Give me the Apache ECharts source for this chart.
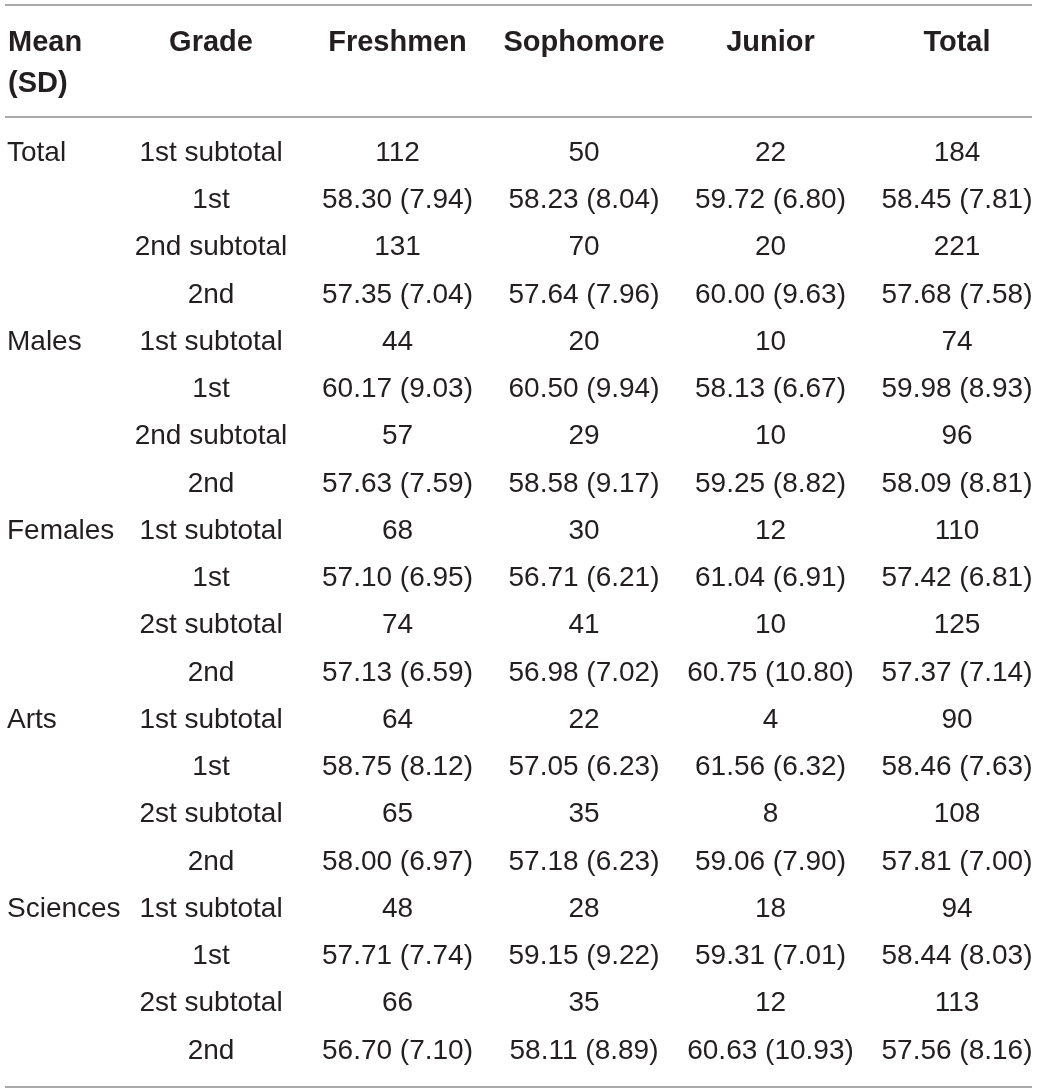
<!DOCTYPE html>
<html>
<head>
<meta charset="utf-8">
<script src="https://cdn.jsdelivr.net/npm/echarts@6/dist/echarts.min.js"></script>
<style>
  html, body { margin: 0; padding: 0; background: #fff; }
  #table { width: 1040px; height: 1092px; }
</style>
</head>
<body>
<div id="table"></div>
<script>
// 表头与行标签
const columns = ['Grade', 'Freshmen', 'Sophomore', 'Junior', 'Total'];
const rowGroups = ['Total', '', '', '', 'Males', '', '', '', 'Females', '', '', '',
  'Arts', '', '', '', 'Sciences', '', '', ''];
const grades = [
  '1st subtotal', '1st', '2nd subtotal', '2nd',
  '1st subtotal', '1st', '2nd subtotal', '2nd',
  '1st subtotal', '1st', '2st subtotal', '2nd',
  '1st subtotal', '1st', '2st subtotal', '2nd',
  '1st subtotal', '1st', '2st subtotal', '2nd'
];

// 每列：人数，[均值, 标准差] 交替
const freshmen = [112, [58.30, 7.94], 131, [57.35, 7.04], 44, [60.17, 9.03], 57, [57.63, 7.59],
  68, [57.10, 6.95], 74, [57.13, 6.59], 64, [58.75, 8.12], 65, [58.00, 6.97],
  48, [57.71, 7.74], 66, [56.70, 7.10]];
const sophomore = [50, [58.23, 8.04], 70, [57.64, 7.96], 20, [60.50, 9.94], 29, [58.58, 9.17],
  30, [56.71, 6.21], 41, [56.98, 7.02], 22, [57.05, 6.23], 35, [57.18, 6.23],
  28, [59.15, 9.22], 35, [58.11, 8.89]];
const junior = [22, [59.72, 6.80], 20, [60.00, 9.63], 10, [58.13, 6.67], 10, [59.25, 8.82],
  12, [61.04, 6.91], 10, [60.75, 10.80], 4, [61.56, 6.32], 8, [59.06, 7.90],
  18, [59.31, 7.01], 12, [60.63, 10.93]];
const total = [184, [58.45, 7.81], 221, [57.68, 7.58], 74, [59.98, 8.93], 96, [58.09, 8.81],
  110, [57.42, 6.81], 125, [57.37, 7.14], 90, [58.46, 7.63], 108, [57.81, 7.00],
  94, [58.44, 8.03], 113, [57.56, 8.16]];

const FONT = 'Liberation Sans';
const INK = '#231f20';
const RULE = '#8c8c8c';
const BODY_SIZE = 28;
const HEAD_SIZE = 29;

function fmt(v) {
  if (Array.isArray(v)) return v[0].toFixed(2) + ' (' + v[1].toFixed(2) + ')';
  return String(v);
}

const cells = [];
[grades, freshmen, sophomore, junior, total].forEach((col, c) => {
  col.forEach((v, r) => cells.push([c, r, fmt(v)]));
});

const chart = echarts.init(document.getElementById('table'));
chart.setOption({
  animation: false,
  backgroundColor: '#fff',
  title: {
    text: 'Mean\n(SD)',
    left: 8,
    top: 22,
    padding: 0,
    textStyle: { fontFamily: FONT, fontSize: HEAD_SIZE, fontWeight: 'bold', color: INK, lineHeight: 41 }
  },
  grid: { left: 211, right: 83, top: 153, bottom: 41 },
  xAxis: {
    type: 'category',
    position: 'top',
    data: columns,
    boundaryGap: false,
    axisLine: { show: false },
    axisTick: { show: false },
    splitLine: { show: false },
    axisLabel: {
      interval: 0,
      margin: 110,
      verticalAlign: 'middle',
      fontFamily: FONT,
      fontSize: HEAD_SIZE,
      fontWeight: 'bold',
      color: INK
    }
  },
  yAxis: {
    type: 'category',
    data: rowGroups.map((g, i) => 'r' + i),
    inverse: true,
    boundaryGap: false,
    axisLine: { show: false },
    axisTick: { show: false },
    splitLine: { show: false },
    axisLabel: {
      interval: 0,
      align: 'left',
      margin: 204,
      fontFamily: FONT,
      fontSize: BODY_SIZE,
      color: INK,
      formatter: (v, i) => rowGroups[i]
    }
  },
  series: [{
    type: 'scatter',
    data: cells,
    symbolSize: 0,
    silent: true,
    itemStyle: { opacity: 1 },
    label: {
      show: true,
      position: 'inside',
      align: 'center',
      verticalAlign: 'middle',
      fontFamily: FONT,
      fontSize: BODY_SIZE,
      color: INK,
      formatter: p => p.value[2]
    }
  }],
  graphic: [
    { type: 'line', shape: { x1: 5, y1: 5, x2: 1032, y2: 5 }, style: { stroke: RULE, lineWidth: 1.5 } },
    { type: 'line', shape: { x1: 5, y1: 117, x2: 1032, y2: 117 }, style: { stroke: RULE, lineWidth: 1.5 } },
    { type: 'line', shape: { x1: 5, y1: 1087, x2: 1032, y2: 1087 }, style: { stroke: RULE, lineWidth: 1.5 } }
  ]
});
</script>
</body>
</html>
